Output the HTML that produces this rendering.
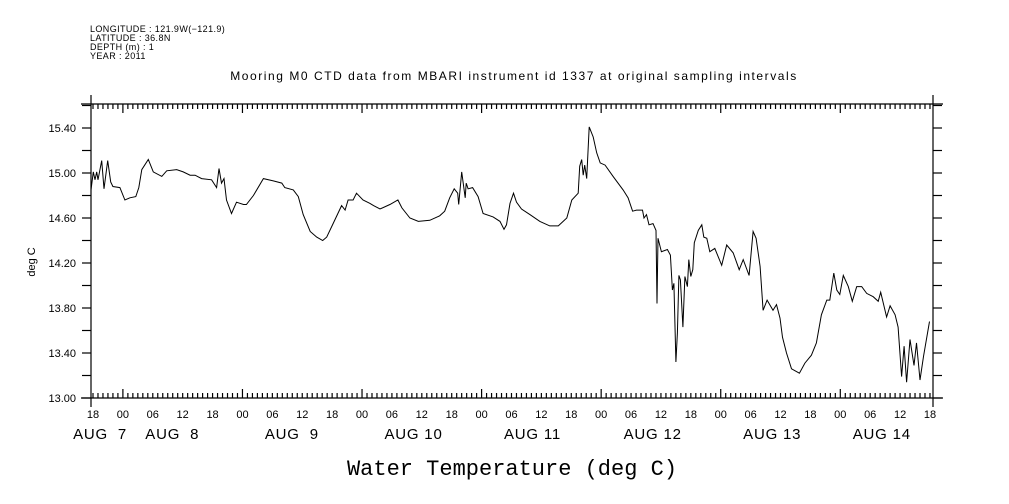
<!DOCTYPE html>
<html><head><meta charset="utf-8">
<style>
html,body{margin:0;padding:0;background:#fff;}
svg{display:block;}
text{font-family:"Liberation Sans",sans-serif;fill:#000;}
</style></head>
<body>
<svg id="chart" width="1009" height="504" viewBox="0 0 1009 504" xmlns="http://www.w3.org/2000/svg">
<rect x="0" y="0" width="1009" height="504" fill="#fff"/>
<g>
<text x="90" y="32" font-size="9" letter-spacing="0.4">LONGITUDE : 121.9W(−121.9)</text>
<text x="90" y="41" font-size="9" letter-spacing="0.4">LATITUDE : 36.8N</text>
<text x="90" y="50" font-size="9" letter-spacing="0.4">DEPTH (m) : 1</text>
<text x="90" y="59" font-size="9" letter-spacing="0.4">YEAR : 2011</text>
</g>
<text x="514" y="80" text-anchor="middle" font-size="12" letter-spacing="1.55">Mooring M0 CTD data from MBARI instrument id 1337 at original sampling intervals</text>
<text transform="translate(35,262) rotate(-90)" text-anchor="middle" font-size="11">deg C</text>
<text x="512" y="475" text-anchor="middle" font-size="22" style="font-family:'Liberation Mono',monospace">Water Temperature (deg C)</text>
<g id="axes"></g>
<g id="series"></g>
</svg>
<script>
const hours=[-0.4,0.06,0.4,0.74,1.0,1.75,2.2,2.95,3.55,4.0,5.4,6.4,7.4,8.6,9.2,9.8,11.1,12.1,13.8,14.8,16.8,18.1,19.5,20.5,21.8,23.8,24.8,25.3,25.8,26.3,26.8,27.8,28.8,30.2,30.8,32.2,34.2,36.2,37.9,38.5,40.2,41.2,42.2,43.6,44.9,46.1,46.9,48.2,49.9,50.6,51.2,52.2,52.9,54.2,55.6,56.3,57.6,59.6,61.2,62.0,63.6,65.3,67.6,69.6,70.6,71.6,72.5,73.2,73.4,74.0,74.7,74.9,75.3,76.2,77.3,78.3,80.3,81.7,82.5,83.0,83.7,84.4,85.0,86.0,87.7,89.7,91.7,93.4,95.1,96.1,97.4,97.7,98.1,98.4,98.7,99.1,99.6,100.4,101.1,101.8,102.8,104.4,106.4,107.4,108.3,109.1,110.3,110.6,111.1,111.6,112.4,113.0,113.2,113.4,114.1,115.3,115.9,116.3,116.6,117.0,117.3,117.6,117.9,118.4,118.8,119.3,119.6,120.0,120.4,120.7,121.5,122.2,122.6,123.2,123.8,124.8,126.2,127.2,128.5,129.7,130.5,131.7,132.5,133.1,133.9,134.5,135.3,136.5,137.2,137.9,138.4,139.2,140.2,141.8,142.9,144.2,145.2,146.2,147.3,147.9,148.7,149.3,149.9,150.6,151.6,152.4,153.3,154.3,155.3,156.6,157.6,158.1,159.3,160.0,161.0,161.6,162.3,162.8,163.3,164.0,164.8,165.3,166.0,166.7,167.9];
const temps=[14.85,15.01,14.94,15.01,14.94,15.11,14.86,15.11,14.92,14.88,14.87,14.76,14.78,14.79,14.87,15.03,15.12,15.01,14.97,15.02,15.03,15.01,14.98,14.98,14.95,14.94,14.87,15.04,14.91,14.95,14.76,14.64,14.74,14.72,14.72,14.80,14.95,14.93,14.91,14.87,14.85,14.79,14.63,14.48,14.43,14.40,14.43,14.55,14.71,14.67,14.76,14.76,14.82,14.76,14.73,14.71,14.68,14.72,14.76,14.69,14.60,14.57,14.58,14.62,14.66,14.78,14.86,14.82,14.72,15.01,14.78,14.91,14.86,14.87,14.79,14.64,14.61,14.57,14.50,14.54,14.73,14.82,14.74,14.68,14.63,14.57,14.53,14.53,14.60,14.76,14.82,15.06,15.12,14.98,15.07,14.95,15.41,15.32,15.18,15.09,15.07,14.97,14.85,14.78,14.66,14.67,14.67,14.60,14.63,14.54,14.55,14.49,13.84,14.42,14.30,14.32,14.27,13.96,14.02,13.32,13.58,14.09,14.05,13.63,14.08,13.99,14.23,14.08,14.14,14.38,14.49,14.54,14.43,14.42,14.30,14.33,14.18,14.36,14.29,14.14,14.23,14.09,14.48,14.42,14.17,13.78,13.87,13.78,13.83,13.71,13.54,13.40,13.26,13.22,13.31,13.38,13.49,13.74,13.87,13.87,14.11,13.96,13.92,14.09,13.99,13.86,13.99,13.99,13.93,13.90,13.86,13.94,13.72,13.82,13.74,13.63,13.19,13.46,13.14,13.52,13.29,13.49,13.16,13.37,13.68];
const hourTickLabels=["18","00","06","12","18","00","06","12","18","00","06","12","18","00","06","12","18","00","06","12","18","00","06","12","18","00","06","12","18"];
const dayLabels=["AUG  7","AUG  8","AUG  9","AUG 10","AUG 11","AUG 12","AUG 13","AUG 14"];
const dayLabelHours=[-4,10.5,34.5,58.5,82.5,106.5,130.5,152.5];
const yTickValues=[13.0,13.2,13.4,13.6,13.8,14.0,14.2,14.4,14.6,14.8,15.0,15.2,15.4,15.6];
const yLabelValues=[13.0,13.4,13.8,14.2,14.6,15.0,15.4];

const NS="http://www.w3.org/2000/svg";
const L=91,R=933,T=104,B=398;
function xScale(h){return 93+h*4.982;}
function yScale(v){return 398-(v-13)*112.5;}
function mk(tag,attrs,parent){const e=document.createElementNS(NS,tag);for(const k in attrs)e.setAttribute(k,attrs[k]);parent.appendChild(e);return e;}
const ax=document.getElementById('axes');
const ln={stroke:'#000','stroke-width':1.2,fill:'none'};
function line(x1,y1,x2,y2,p){return mk('line',Object.assign({x1,y1,x2,y2},ln),p);}
let e;
e=line(81,B,943,B,ax);


e=line(81,T,943,T,ax);


e=line(L,T-9,L,B+9,ax);


e=line(R,T-9,R,B+9,ax);


for(let h=0;h<=168;h++){
  const x=xScale(h);
  if(x>R-1)break;
  const major=((h+18)%24===0);
  const len=major?9:5;
  line(x,B,x,B-len,ax);
  line(x,T,x,T+len,ax);
}
hourTickLabels.forEach((s,i)=>{
  const t=mk('text',{x:xScale(i*6),y:418,'text-anchor':'middle','font-size':11},ax);
  t.textContent=s;
  
  
});
dayLabels.forEach((s,i)=>{
  const t=mk('text',{x:xScale(dayLabelHours[i]),y:439,'font-size':15,'letter-spacing':0.8},ax);
  t.setAttribute('style','white-space:pre');
  t.textContent=s;
  
  
});
yTickValues.forEach(v=>{
  const y=yScale(v);
  if(y<T-1)return;
  line(L-9,y,L,y,ax);
  line(R,y,R+9,y,ax);
});
yLabelValues.forEach(v=>{
  const t=mk('text',{x:76,y:yScale(v)+4,'text-anchor':'end','font-size':11},ax);
  t.textContent=v.toFixed(2);
  
  
});
const pts=hours.map((h,i)=>xScale(h).toFixed(1)+','+yScale(temps[i]).toFixed(1)).join(' ');
const pl=mk('polyline',{points:pts,fill:'none',stroke:'#000','stroke-width':1,'stroke-linejoin':'miter'},document.getElementById('series'));


</script>
</body></html>
